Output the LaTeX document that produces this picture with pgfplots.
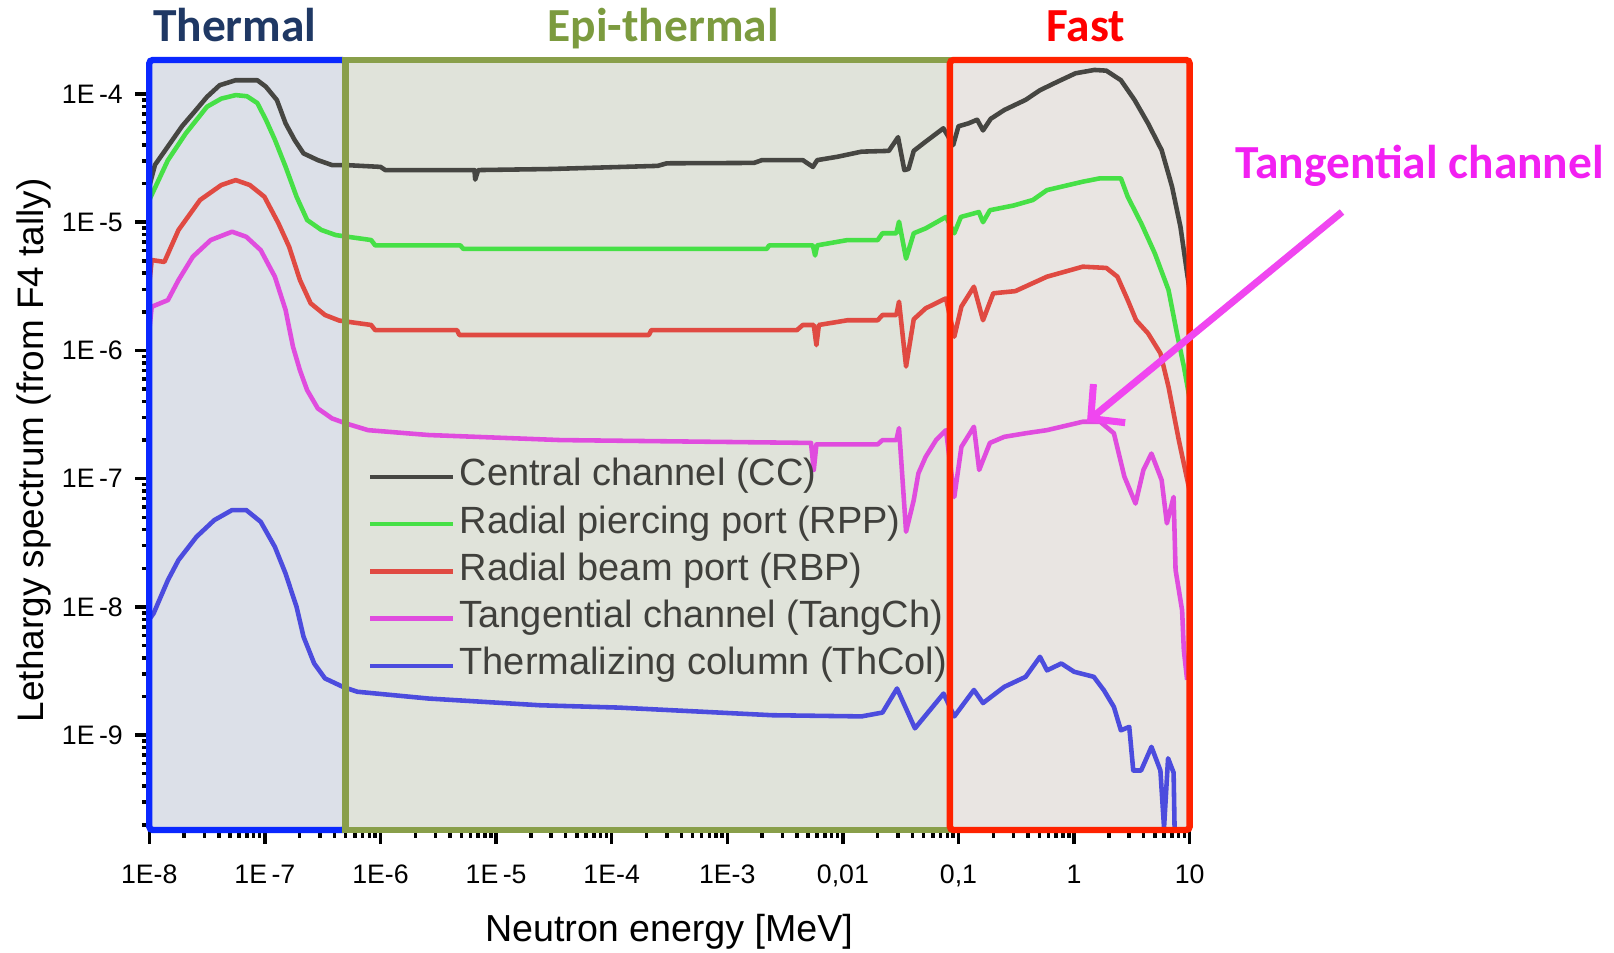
\documentclass[border=0pt]{standalone}
\usepackage{pgfplots}
\pgfplotsset{compat=1.18}
\usepackage{fontspec}
\setmainfont{Liberation Sans}
\newfontfamily\calibri{Carlito}
\usetikzlibrary{arrows.meta}

\definecolor{cc}{RGB}{70,70,66}
\definecolor{rpp}{RGB}{70,224,70}
\definecolor{rbp}{RGB}{224,74,66}
\definecolor{tang}{RGB}{224,76,222}
\definecolor{thcol}{RGB}{76,76,222}
\definecolor{thfill}{RGB}{220,224,232}
\definecolor{epifill}{RGB}{224,227,218}
\definecolor{fastfill}{RGB}{233,229,226}
\definecolor{thline}{RGB}{10,40,255}
\definecolor{epiline}{RGB}{137,159,74}
\definecolor{fastline}{RGB}{255,34,0}
\definecolor{thtitle}{RGB}{31,56,100}
\definecolor{epititle}{RGB}{124,155,63}
\definecolor{tangtext}{RGB}{242,32,242}
\definecolor{tangarrow}{RGB}{240,70,240}
\definecolor{legtext}{RGB}{64,64,60}

\begin{document}
\begin{tikzpicture}
\useasboundingbox (-1.493,-1.22) rectangle (14.647,8.30);
\begin{axis}[
    at={(0,0)}, anchor=south west,
    scale only axis, width=10.404cm, height=7.70cm,
    xmode=log, ymode=log,
    xmin=1e-8, xmax=10, ymin=1.82e-10, ymax=1.84e-4,
    axis x line*=bottom, axis y line*=left,
    axis line style={black, line width=0.8pt, -},
    clip mode=individual,
    xtick={1e-8,1e-7,1e-6,1e-5,1e-4,1e-3,1e-2,1e-1,1,10},
    xticklabels={1E-8,1E\,-7,1E-6,1E\,-5,1E-4,1E-3,{0,01},{0,1},1,10},
    ytick={1e-9,1e-8,1e-7,1e-6,1e-5,1e-4},
    yticklabels={1E\,-9,1E\,-8,1E\,-7,1E\,-6,1E\,-5,1E\,-4},
    minor ytick={2e-10,3e-10,4e-10,5e-10,6e-10,7e-10,8e-10,9e-10,
                 2e-9,3e-9,4e-9,5e-9,6e-9,7e-9,8e-9,9e-9,
                 2e-8,3e-8,4e-8,5e-8,6e-8,7e-8,8e-8,9e-8,
                 2e-7,3e-7,4e-7,5e-7,6e-7,7e-7,8e-7,9e-7,
                 2e-6,3e-6,4e-6,5e-6,6e-6,7e-6,8e-6,9e-6,
                 2e-5,3e-5,4e-5,5e-5,6e-5,7e-5,8e-5,9e-5},
    tick align=outside,
    major tick length=0.14cm, minor tick length=0.075cm,
    every tick/.style={black, line width=1pt},
    tick label style={font=\fontsize{7.6}{9}\selectfont, black},
    xticklabel style={yshift=-0.085cm},
    legend style={at={(axis description cs:0.2097,0.482)}, anchor=north west,
        draw=none, fill=none, font=\fontsize{10.8}{12}\selectfont, text=legtext,
        inner sep=0pt, row sep=0.12cm, cells={anchor=west},
        nodes={inner xsep=0.05cm, inner ysep=0pt, text height=0.75em, text depth=0.25em}},
    legend image code/.code={\draw[#1, line width=1.2pt] (0cm,0cm) -- (0.823cm,0cm);},
    every axis plot/.append style={line width=1.3pt, line join=round},
]
% region backgrounds
\fill[thfill] (axis cs:1e-8,1.82e-10) rectangle (axis cs:5e-7,1.84e-4);
\fill[epifill] (axis cs:5e-7,1.82e-10) rectangle (axis cs:0.0843,1.84e-4);
\fill[fastfill] (axis cs:0.0843,1.82e-10) rectangle (axis cs:10,1.84e-4);

% Central channel (CC)
\addplot[cc] coordinates {
(1.0e-8,1.9e-5) (1.12e-8,2.8e-5) (1.45e-8,3.9e-5) (1.92e-8,5.6e-5) (2.47e-8,7.3e-5)
(3.16e-8,9.5e-5) (4.06e-8,1.17e-4) (5.58e-8,1.28e-4) (8.6e-8,1.28e-4) (1.02e-7,1.14e-4)
(1.27e-7,8.97e-5) (1.51e-7,5.9e-5) (1.81e-7,4.37e-5) (2.16e-7,3.44e-5) (2.87e-7,3.05e-5)
(3.81e-7,2.79e-5) (5e-7,2.79e-5) (1.0e-6,2.7e-5) (1.1e-6,2.55e-5) (6.5e-6,2.55e-5)
(6.6e-6,2.15e-5) (7e-6,2.55e-5) (3e-5,2.6e-5) (2.5e-4,2.75e-5) (3e-4,2.88e-5)
(1.7e-3,2.9e-5) (2e-3,3.05e-5) (4.5e-3,3.05e-5) (5.5e-3,2.7e-5) (6e-3,3.05e-5)
(9e-3,3.24e-5) (0.0145,3.55e-5) (0.025,3.6e-5) (0.030,4.6e-5) (0.034,2.55e-5)
(0.037,2.6e-5) (0.041,3.6e-5) (0.052,4.25e-5) (0.074,5.4e-5) (0.09,4.0e-5)
(0.1,5.6e-5) (0.122,5.9e-5) (0.145,6.3e-5) (0.163,5.2e-5) (0.19,6.4e-5)
(0.249,7.5e-5) (0.381,9.0e-5) (0.507,1.07e-4) (0.724,1.25e-4) (1.03,1.45e-4)
(1.5,1.54e-4) (1.9,1.52e-4) (2.54,1.28e-4) (3.33,9.0e-5) (4.36,5.9e-5)
(5.72,3.65e-5) (7.03,1.9e-5) (8.32,9.2e-6) (10,2.9e-6)
};
\addlegendentry{Central channel (CC)}

% Radial piercing port (RPP)
\addplot[rpp] coordinates {
(1e-8,1.49e-5) (1.45e-8,3.05e-5) (2.07e-8,4.93e-5) (3.16e-8,7.96e-5) (4.2e-8,9.2e-5)
(5.6e-8,9.8e-5) (7e-8,9.6e-5) (8.6e-8,8.5e-5) (1.02e-7,6.3e-5) (1.22e-7,4.4e-5)
(1.51e-7,2.71e-5) (1.88e-7,1.58e-5) (2.32e-7,1.04e-5) (3.08e-7,8.7e-6) (4.1e-7,7.94e-6)
(8.3e-7,7.26e-6) (9e-7,6.6e-6) (4.9e-6,6.6e-6) (5.2e-6,6.2e-6) (2.2e-3,6.2e-6)
(2.3e-3,6.6e-6) (5.5e-3,6.6e-6) (5.75e-3,5.5e-6) (6e-3,6.6e-6) (0.011,7.26e-6)
(0.02,7.26e-6) (0.022,8.2e-6) (0.029,8.2e-6) (0.0306,1.01e-5) (0.0352,5.2e-6)
(0.041,8.2e-6) (0.052,8.95e-6) (0.078,1.1e-5) (0.092,8.2e-6) (0.105,1.1e-5)
(0.122,1.14e-5) (0.15,1.2e-5) (0.163,1.0e-5) (0.187,1.24e-5) (0.3,1.35e-5)
(0.44,1.49e-5) (0.583,1.78e-5) (1.19,2.07e-5) (1.68,2.2e-5) (2.54,2.2e-5)
(2.91,1.58e-5) (3.81,9.8e-6) (5.0,5.7e-6) (6.56,2.96e-6) (7.76,1.36e-6)
(8.9,7.5e-7) (10,4.2e-7)
};
\addlegendentry{Radial piercing port (RPP)}

% Radial beam port (RBP)
\addplot[rbp] coordinates {
(1e-8,3.33e-6) (1.05e-8,5.07e-6) (1.35e-8,4.9e-6) (1.79e-8,8.7e-6) (2.75e-8,1.49e-5)
(4.2e-8,1.95e-5) (5.6e-8,2.13e-5) (7.4e-8,1.95e-5) (9.9e-8,1.58e-5) (1.31e-7,9.8e-6)
(1.62e-7,6.44e-6) (2.01e-7,3.54e-6) (2.49e-7,2.33e-6) (3.31e-7,1.89e-6) (4.4e-7,1.71e-6)
(8.3e-7,1.58e-6) (9e-7,1.44e-6) (4.6e-6,1.44e-6) (4.8e-6,1.32e-6) (2.1e-4,1.32e-6)
(2.2e-4,1.44e-6) (4.0e-3,1.44e-6) (4.5e-3,1.58e-6) (5.6e-3,1.58e-6) (5.9e-3,1.1e-6)
(6.2e-3,1.58e-6) (0.011,1.72e-6) (0.02,1.72e-6) (0.022,1.89e-6) (0.029,1.89e-6)
(0.0306,2.4e-6) (0.0352,7.5e-7) (0.041,1.75e-6) (0.052,2.13e-6) (0.078,2.55e-6)
(0.092,1.28e-6) (0.106,2.2e-6) (0.136,3.14e-6) (0.163,1.72e-6) (0.2,2.79e-6)
(0.31,2.9e-6) (0.583,3.76e-6) (1.19,4.5e-6) (1.9,4.4e-6) (2.37,3.76e-6)
(2.91,2.47e-6) (3.44,1.72e-6) (4.36,1.36e-6) (5.58,9.5e-7) (6.56,5.2e-7)
(8.05,2.0e-7) (10,8e-8)
};
\addlegendentry{Radial beam port (RBP)}

% Tangential channel (TangCh)
\addplot[tang] coordinates {
(1e-8,1.44e-6) (1.05e-8,2.19e-6) (1.45e-8,2.47e-6) (1.79e-8,3.54e-6) (2.38e-8,5.38e-6)
(3.4e-8,7.26e-6) (5.2e-8,8.43e-6) (6.9e-8,7.7e-6) (9.2e-8,6.06e-6) (1.22e-7,3.76e-6)
(1.51e-7,2.07e-6) (1.75e-7,1.07e-6) (2.01e-7,7.0e-7) (2.32e-7,4.9e-7) (2.87e-7,3.53e-7)
(3.81e-7,2.95e-7) (5e-7,2.7e-7) (7.8e-7,2.39e-7) (2.6e-6,2.19e-7) (3.6e-5,2.0e-7)
(5.3e-3,1.9e-7) (5.6e-3,1.17e-7) (5.9e-3,1.85e-7) (0.02,1.85e-7) (0.022,2.0e-7)
(0.029,2.0e-7) (0.0306,2.48e-7) (0.0352,3.86e-8) (0.041,6.8e-8) (0.045,1.1e-7)
(0.052,1.48e-7) (0.064,2.0e-7) (0.078,2.39e-7) (0.092,7.2e-8) (0.106,1.77e-7)
(0.136,2.54e-7) (0.151,1.17e-7) (0.187,1.9e-7) (0.249,2.12e-7) (0.381,2.26e-7)
(0.583,2.39e-7) (1.19,2.78e-7) (1.68,2.78e-7) (2.21,2.26e-7) (2.72,1.04e-7)
(3.4,6.4e-8) (3.98,1.17e-7) (4.67,1.57e-7) (5.72,9.75e-8) (6.35,4.48e-8)
(7.26,7.2e-8) (7.55,1.94e-8) (8.6,9.4e-9) (8.9,4.6e-9) (9.5,2.7e-9)
};
\addlegendentry{Tangential channel (TangCh)}

% Thermalizing column (ThCol)
\addplot[thcol] coordinates {
(1e-8,8.0e-9) (1.09e-8,8.9e-9) (1.45e-8,1.62e-8) (1.79e-8,2.32e-8) (2.56e-8,3.52e-8)
(3.65e-8,4.75e-8) (5.2e-8,5.69e-8) (6.9e-8,5.69e-8) (9.2e-8,4.61e-8) (1.22e-7,2.94e-8)
(1.51e-7,1.82e-8) (1.88e-7,1.0e-8) (2.16e-7,5.85e-9) (2.67e-7,3.62e-9) (3.31e-7,2.77e-9)
(4.73e-7,2.38e-9) (6.3e-7,2.18e-9) (2.6e-6,1.93e-9) (2.4e-5,1.71e-9) (1.15e-4,1.64e-9)
(2.44e-3,1.43e-9) (0.0145,1.4e-9) (0.022,1.5e-9) (0.0294,2.31e-9) (0.042,1.13e-9)
(0.06,1.67e-9) (0.0743,2.11e-9) (0.092,1.4e-9) (0.136,2.25e-9) (0.163,1.78e-9)
(0.249,2.38e-9) (0.381,2.85e-9) (0.507,4.08e-9) (0.583,3.2e-9) (0.776,3.62e-9)
(1.0,3.12e-9) (1.48,2.85e-9) (1.81,2.24e-9) (2.21,1.66e-9) (2.54,1.09e-9)
(3.0,1.16e-9) (3.25,5.3e-10) (3.8,5.3e-10) (4.67,8.1e-10) (5.58,5.3e-10)
(6.0,1.9e-10) (6.5,6.6e-10) (7.26,5.1e-10) (7.4,1.9e-10)
};
\addlegendentry{Thermalizing column (ThCol)}

% region frames
\draw[thline, line width=0.064cm, rounded corners=1pt] (axis cs:1e-8,1.82e-10) rectangle (axis cs:5e-7,1.84e-4);
\draw[epiline, line width=0.064cm] (axis cs:5e-7,1.82e-10) rectangle (axis cs:0.0843,1.84e-4);
\draw[fastline, line width=0.064cm, rounded corners=1pt] (axis cs:0.0843,1.82e-10) rectangle (axis cs:10,1.84e-4);
\end{axis}

% region titles
\node[anchor=base, text=thtitle, font=\calibri\bfseries\fontsize{13.5}{16}\selectfont] at (0.855,7.883) {Thermal};
\node[anchor=base, text=epititle, font=\calibri\bfseries\fontsize{13.5}{16}\selectfont] at (5.139,7.883) {Epi-thermal};
\node[anchor=base, text=red, font=\calibri\bfseries\fontsize{13.5}{16}\selectfont] at (9.364,7.883) {Fast};

% annotation
\node[anchor=base, text=tangtext, font=\calibri\bfseries\fontsize{13.5}{16}\selectfont] at (12.704,6.517) {Tangential channel};
\draw[tangarrow, line width=2pt, -{Straight Barb[length=2.4mm, width=5mm]}] (11.927,6.18) -- (9.377,4.083);

% axis titles
\node[anchor=base, font=\fontsize{10.7}{12}\selectfont] at (5.197,-1.117) {Neutron energy [MeV]};
\node[anchor=base, rotate=90, font=\fontsize{10.5}{12}\selectfont] at (-1.063,3.797) {Lethargy spectrum (from F4 tally)};
\end{tikzpicture}
\end{document}
